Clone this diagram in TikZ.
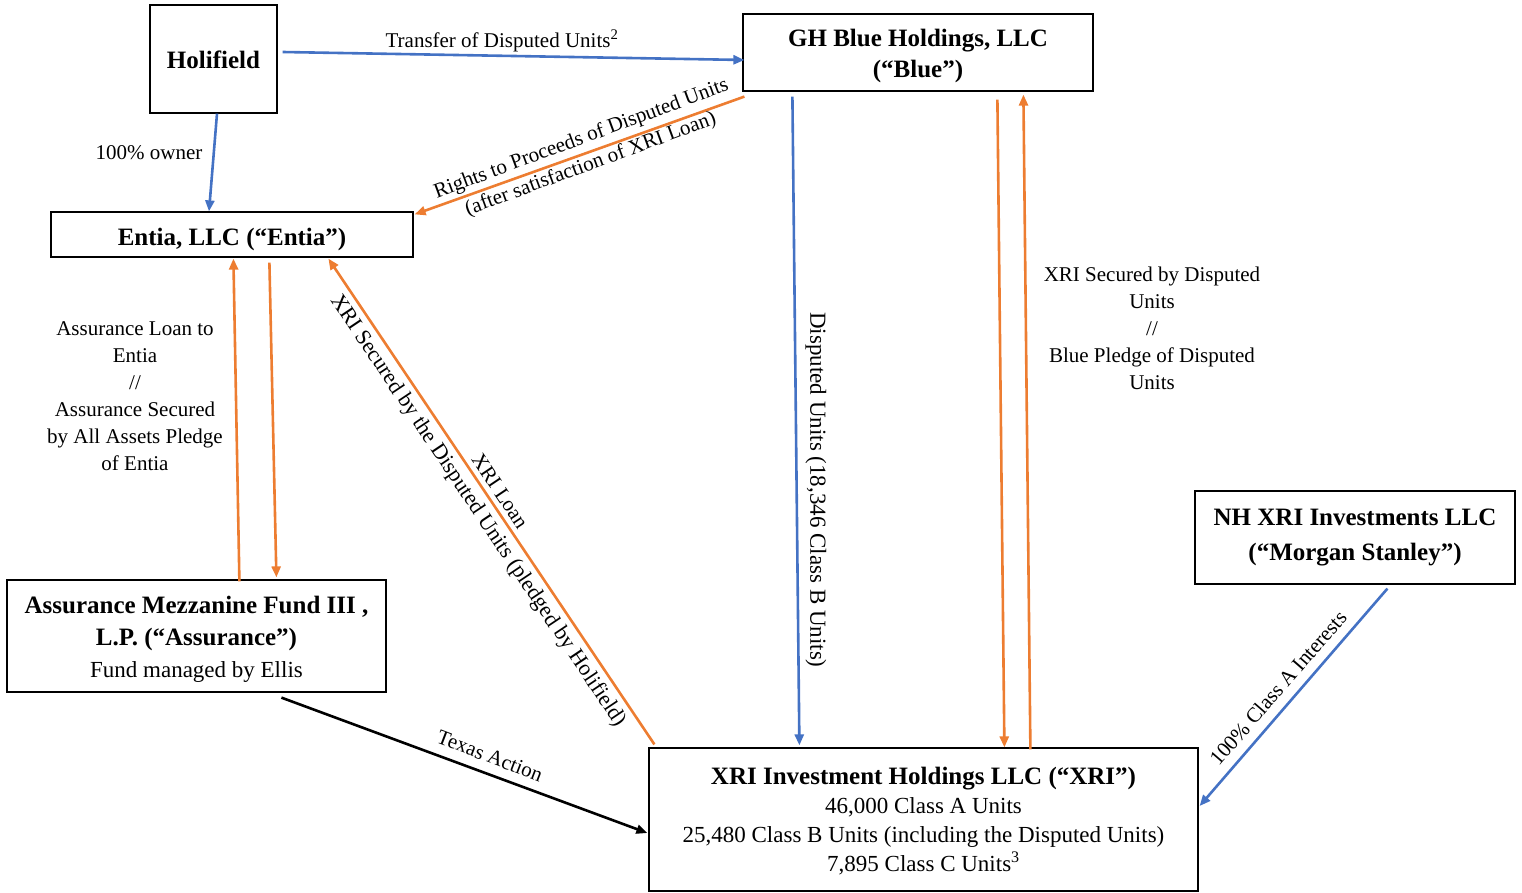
\documentclass[tikz,border=0pt]{standalone}
\usepackage{fontspec}
\setmainfont{Liberation Serif}
\usetikzlibrary{arrows.meta,calc}
\definecolor{cblue}{RGB}{68,114,196}
\definecolor{corange}{RGB}{237,125,49}
\begin{document}
\begin{tikzpicture}[x=1pt,y=-1pt,
  box/.style={draw=black,line width=1.2pt,inner sep=0pt,align=center},
  bfont/.style={font=\fontsize{25}{31}\selectfont\bfseries},
  lab/.style={font=\fontsize{21}{27}\selectfont,inner sep=0pt,align=center},
  conn/.style={line width=2.6pt,-{Triangle[length=11pt,width=9pt]}},
  bconn/.style={conn,draw=cblue,color=cblue},
  oconn/.style={conn,draw=corange,color=corange},
  kconn/.style={conn,draw=black}]
\useasboundingbox (0,0) rectangle (1522,893);
% boxes
\node[box,bfont,minimum width=127pt,minimum height=108pt] (hol) at (213.5,59) {\rule{0pt}{19pt}Holifield};
\node[box,bfont,minimum width=350pt,minimum height=77pt] (blue) at (918,52.5) {\rule{0pt}{25pt}GH Blue Holdings, LLC\\(“Blue”)};
\node[box,bfont,minimum width=362pt,minimum height=45pt] (entia) at (232,234.5) {\rule{0pt}{27pt}Entia, LLC (“Entia”)};
\node[box,minimum width=379pt,minimum height=112pt,font=\fontsize{23}{32}\selectfont] (assur) at (196.5,636)
  {\rule{0pt}{24pt}\textbf{\fontsize{25}{32}\selectfont Assurance Mezzanine Fund III ,}\\\textbf{\fontsize{25}{32}\selectfont L.P. (“Assurance”)}\\Fund managed by Ellis};
\node[box,minimum width=320pt,minimum height=93pt,font=\fontsize{25}{35}\selectfont\bfseries] (nh) at (1355,537.5) {NH XRI Investments LLC\\(“Morgan Stanley”)};
\node[box,minimum width=549pt,minimum height=143pt,font=\fontsize{23}{29}\selectfont] (xri) at (923.5,819.5)
  {\rule{0pt}{21pt}\textbf{\fontsize{25}{29}\selectfont XRI Investment Holdings LLC (“XRI”)}\\46,000 Class A Units\\25,480 Class B Units (including the Disputed Units)\\7,895 Class C Units\textsuperscript{3}};
% connectors
\draw[bconn] ([shift={(5,-7)}]hol.east) -- ([shift={(2,7.5)}]blue.west);
\draw[bconn] ([shift={(3.5,0)}]hol.south) -- ([shift={(-23,0)}]entia.north);
\draw[oconn] ([shift={(2,5)}]blue.south west) -- ([shift={(1,3)}]entia.north east);
\draw[bconn] ([shift={(50,5)}]blue.south west) -- ([shift={(151,-2)}]xri.north west);
\draw[oconn] ([shift={(255,8)}]blue.south west) -- ([shift={(356,0)}]xri.north west);
\draw[oconn] ([shift={(382,2)}]xri.north west) -- ([shift={(281,3)}]blue.south west);
\draw[oconn] ([shift={(233,2)}]assur.north west) -- ([shift={(183,1)}]entia.south west);
\draw[oconn] ([shift={(219,5)}]entia.south west) -- ([shift={(270,-2)}]assur.north west);
\draw[oconn] ([shift={(6,-3)}]xri.north west) -- ([shift={(278,1)}]entia.south west);
\draw[kconn] ([shift={(275,5)}]assur.south west) -- ([shift={(-1,13.5)}]xri.west);
\draw[bconn] ([shift={(193,4)}]nh.south west) -- ([shift={(1,-13.5)}]xri.east);
% labels
\node[lab] (l1) at (502,41) {Transfer of Disputed Units\textsuperscript{2}};
\node[lab] (l2) at (149,153) {100\% owner};
\node[lab,rotate=20.3] (l3) at (586,152) {Rights to Proceeds of Disputed Units\\(after satisfaction of XRI Loan)};
\node[lab,rotate=-90,font=\fontsize{23}{27}\selectfont] (l4) at (816,490) {Disputed Units (18,346 Class B Units)};
\node[lab] (l5) at (1152,328) {XRI Secured by Disputed\\Units\\//\\Blue Pledge of Disputed\\Units};
\node[lab] (l6) at (135,396.5) {Assurance Loan to\\Entia\\//\\Assurance Secured\\by All Assets Pledge\\of Entia};
\node[lab,rotate=-56.2] (l7) at (500,491) {XRI Loan};
\node[lab,rotate=-56.2,font=\fontsize{22}{27}\selectfont] (l8) at (478,511) {XRI Secured by the Disputed Units (pledged by Holifield)};
\node[lab,rotate=-21] (l9) at (490,756) {Texas Action};
\node[lab,rotate=49] (l10) at (1278,688) {100\% Class A Interests};
\end{tikzpicture}
\end{document}
